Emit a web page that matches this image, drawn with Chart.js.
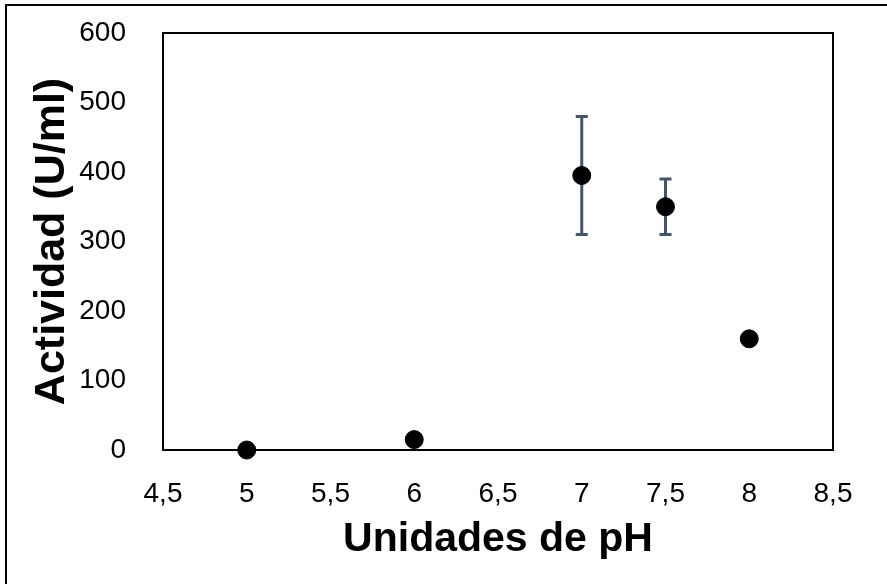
<!DOCTYPE html>
<html>
<head>
<meta charset="utf-8">
<script src="https://cdn.jsdelivr.net/npm/chart.js@4/dist/chart.umd.min.js"></script>
<style>
  html, body { margin: 0; padding: 0; background: #fff; }
  #wrap { width: 887px; height: 584px; }
</style>
</head>
<body>
<div id="wrap"><canvas id="grafico" width="887" height="584"></canvas></div>
<script>
// Datos
const phValores = [5, 6, 7, 7.5, 8];
const actividad = [0, 15, 395, 350, 160];
const errorActividad = [0, 0, 85, 40, 0];
const ticksX = [4.5, 5, 5.5, 6, 6.5, 7, 7.5, 8, 8.5];
const ticksY = [0, 100, 200, 300, 400, 500, 600];

const fuente = "'Liberation Sans', Arial, sans-serif";

// Barras de error
const barrasError = {
    id: 'barrasError',
    beforeDatasetsDraw(chart) {
        const ctx = chart.ctx;
        const xs = chart.scales.x;
        const ys = chart.scales.y;
        ctx.save();
        ctx.strokeStyle = '#44546A';
        ctx.lineWidth = 3;
        phValores.forEach((ph, i) => {
            const e = errorActividad[i];
            if (!e) return;
            const px = xs.getPixelForValue(ph);
            const arriba = ys.getPixelForValue(actividad[i] + e);
            const abajo = ys.getPixelForValue(actividad[i] - e);
            ctx.beginPath();
            ctx.moveTo(px, arriba);
            ctx.lineTo(px, abajo);
            ctx.moveTo(px - 6, arriba);
            ctx.lineTo(px + 6, arriba);
            ctx.moveTo(px - 6, abajo);
            ctx.lineTo(px + 6, abajo);
            ctx.stroke();
        });
        ctx.restore();
    }
};

// Marco del area y borde exterior
const marcos = {
    id: 'marcos',
    afterDraw(chart) {
        const ctx = chart.ctx;
        const a = chart.chartArea;
        ctx.save();
        ctx.strokeStyle = '#000';
        ctx.lineWidth = 2;
        ctx.strokeRect(a.left, a.top, a.right - a.left, a.bottom - a.top);
        ctx.beginPath();
        ctx.moveTo(6, 600);
        ctx.lineTo(6, 5);
        ctx.lineTo(900, 5);
        ctx.stroke();
        ctx.restore();
    }
};

new Chart(document.getElementById('grafico'), {
    type: 'scatter',
    data: {
        datasets: [{
            label: 'Actividad',
            data: phValores.map((x, i) => ({ x: x, y: actividad[i] })),
            backgroundColor: '#000',
            borderColor: '#000',
            pointRadius: 9,
            pointHoverRadius: 9,
            clip: false
        }]
    },
    options: {
        responsive: false,
        animation: false,
        events: [],
        layout: { padding: { left: 6, top: 33, right: 54, bottom: 0 } },
        plugins: {
            legend: { display: false },
            tooltip: { enabled: false }
        },
        scales: {
            x: {
                type: 'linear',
                min: 4.5,
                max: 8.5,
                afterBuildTicks(scale) {
                    scale.ticks = ticksX.map(v => ({ value: v }));
                },
                afterFit(scale) {
                    scale.height = 134;
                    scale.paddingLeft = 0;
                    scale.paddingRight = 0;
                },
                grid: { display: false },
                border: { display: false },
                ticks: {
                    color: '#000',
                    padding: 19,
                    maxRotation: 0,
                    font: { family: fuente, size: 28 },
                    callback: v => String(v).replace('.', ',')
                },
                title: {
                    display: true,
                    text: 'Unidades de pH',
                    color: '#000',
                    padding: { top: 0, bottom: 20 },
                    font: { family: fuente, size: 41, weight: 'bold' }
                }
            },
            y: {
                min: 0,
                max: 600,
                afterBuildTicks(scale) {
                    scale.ticks = ticksY.map(v => ({ value: v }));
                },
                afterFit(scale) {
                    scale.width = 157;
                    scale.paddingTop = 0;
                    scale.paddingBottom = 0;
                },
                grid: { display: false },
                border: { display: false },
                ticks: {
                    color: '#000',
                    padding: 29,
                    font: { family: fuente, size: 28 }
                },
                title: {
                    display: true,
                    text: 'Actividad (U/ml)',
                    color: '#000',
                    padding: { top: 20, bottom: 0 },
                    font: { family: fuente, size: 43, weight: 'bold' }
                }
            }
        }
    },
    plugins: [barrasError, marcos]
});
</script>
</body>
</html>
